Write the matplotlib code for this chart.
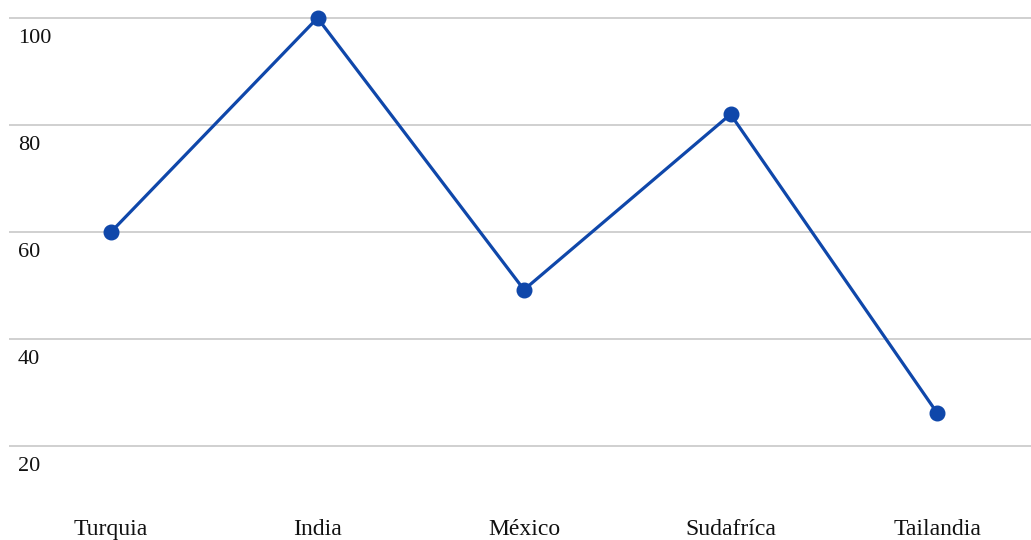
import matplotlib
matplotlib.use("Agg")
import matplotlib.pyplot as plt

countries = ["Turquia", "India", "México", "Sudafríca", "Tailandia"]
values = [60.0, 100.0, 49.2, 82.0, 26.2]
y_ticks = [20, 40, 60, 80, 100]

line_color = "#0F47AA"
grid_color = "#D0D0D0"
text_color = "#111111"
font = ["Liberation Serif", "DejaVu Serif"]

fig = plt.figure(figsize=(10.31, 5.40), dpi=100)
ax = fig.add_axes([9 / 1031, 40 / 540, 1 - 9 / 1031, 500 / 540])

x = list(range(len(countries)))
ax.plot(x, values, color=line_color, linewidth=2.3, marker="o",
        markersize=10.5, markerfacecolor=line_color, markeredgecolor=line_color,
        zorder=3)

ax.set_xlim(-0.494, 4.455)
ax.set_ylim(9.9, 103.36)

for v in y_ticks:
    ax.axhline(v, color=grid_color, linewidth=1.4, zorder=1)
    ax.annotate(str(v), xy=(0, v), xycoords=("axes fraction", "data"),
                xytext=(6.5, -8), textcoords="offset points", va="top", ha="left",
                fontsize=16, family=font, color=text_color)

ax.set_xticks(x)
ax.set_xticklabels(countries, family=font, fontsize=17, color=text_color)
ax.tick_params(axis="x", length=0, pad=14)
ax.set_yticks([])
for s in ax.spines.values():
    s.set_visible(False)

fig.savefig("out.png", dpi=100, facecolor="white")
